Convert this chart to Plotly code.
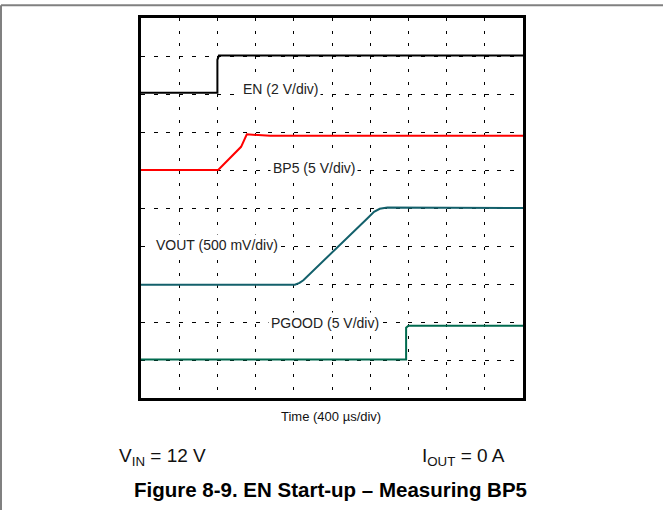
import plotly.graph_objects as go

# Time in divisions (400 us/div), amplitude in screen divisions
en_t = [0, 2.0, 2.0, 2.04, 10]
en_v = [8.03, 8.03, 8.9, 9.01, 9.01]

bp5_t = [0, 2.02, 2.62, 2.77, 3.38, 10]
bp5_v = [6.0, 6.0, 6.61, 6.94, 6.90, 6.90]

vout_t = [0, 4.03, 4.15, 4.25, 5.95, 6.1, 6.25, 6.45, 10]
vout_v = [2.98, 2.98, 3.03, 3.1, 4.75, 4.9, 4.98, 5.01, 5.0]

pg_t = [0, 6.94, 6.94, 7.0, 10]
pg_v = [1.01, 1.01, 1.85, 1.9, 1.9]

labels = ["EN (2 V/div)", "BP5 (5 V/div)", "VOUT (500 mV/div)", "PGOOD (5 V/div)"]
label_x = [3.64, 4.53, 1.99, 4.82]
label_y = [8.13, 6.06, 4.03, 1.98]

colors = ["#000000", "#ff0000", "#13606b", "#006b4f"]

FONT = "Liberation Sans, Arial, sans-serif"

fig = go.Figure()
for t, v, c in [(en_t, en_v, colors[0]), (bp5_t, bp5_v, colors[1]),
                (vout_t, vout_v, colors[2]), (pg_t, pg_v, colors[3])]:
    fig.add_trace(go.Scatter(x=t, y=v, mode="lines", hoverinfo="skip",
                             line=dict(color=c, width=2), showlegend=False))

for txt, x, y in zip(labels, label_x, label_y):
    fig.add_annotation(x=x, y=y, xref="x", yref="y", text=txt, showarrow=False,
                       xanchor="center", yanchor="middle",
                       font=dict(family=FONT, size=14, color="#222"),
                       bgcolor="white", borderpad=2)

fig.add_annotation(x=0.497, y=-0.048, xref="paper", yref="paper",
                   xanchor="center", yanchor="middle",
                   text="Time (400 µs/div)", showarrow=False,
                   font=dict(family=FONT, size=13, color="#111"))
fig.add_annotation(x=0.176, y=-0.155, xref="paper", yref="paper",
                   xanchor="right", yanchor="middle",
                   text="V<sub>IN</sub> = 12 V", showarrow=False,
                   font=dict(family=FONT, size=19, color="#111"))
fig.add_annotation(x=0.958, y=-0.155, xref="paper", yref="paper",
                   xanchor="right", yanchor="middle",
                   text="I<sub>OUT</sub> = 0 A", showarrow=False,
                   font=dict(family=FONT, size=19, color="#111"))
fig.add_annotation(x=0.497, y=-0.241, xref="paper", yref="paper",
                   xanchor="center", yanchor="middle",
                   text="<b>Figure 8-9. EN Start-up – Measuring BP5</b>", showarrow=False,
                   font=dict(family=FONT, size=20.5, color="#000"))

# outer page frame (top and left grey rules)
fig.add_shape(type="line", xref="paper", yref="paper", x0=-0.3665, x1=1.3665,
              y0=1.0337, y1=1.0337, line=dict(color="#808080", width=2))
fig.add_shape(type="line", xref="paper", yref="paper", x0=-0.3665, x1=-0.3665,
              y0=1.0337, y1=-0.3, line=dict(color="#808080", width=2))

axis_common = dict(range=[0, 10], dtick=1, showticklabels=False, ticks="",
                   zeroline=False, showline=True, mirror=True,
                   linecolor="black", linewidth=2.5, gridcolor="black", gridwidth=1,
                   fixedrange=True)
fig.update_xaxes(**axis_common, griddash="3px,9.73px")
fig.update_yaxes(**axis_common, griddash="4px,8.73px")

fig.update_layout(width=663, height=510,
                  margin=dict(l=141, r=140, t=18, b=112),
                  paper_bgcolor="white", plot_bgcolor="white")

fig.write_html("out.html", config={"displayModeBar": False},
               post_script="document.body.style.margin='0';")
